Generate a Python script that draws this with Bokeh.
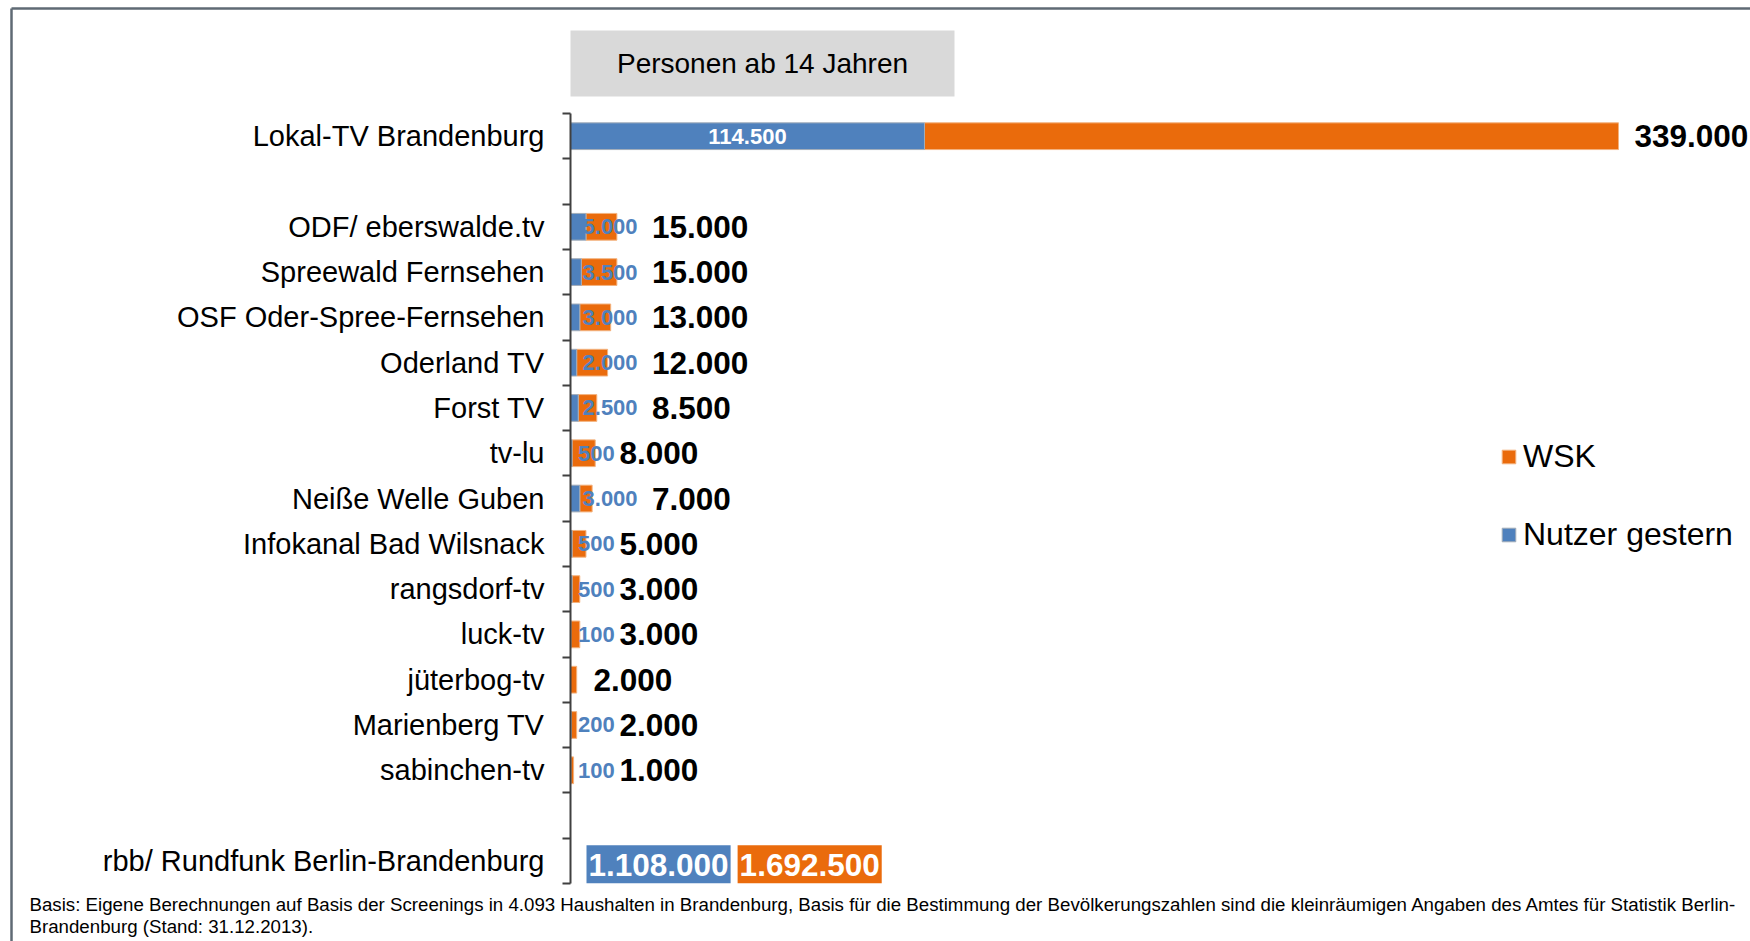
import numpy as np
from bokeh.plotting import figure
from bokeh.models import (ColumnDataSource, Range1d, LinearAxis, FixedTicker,
                          Legend, LegendItem)
from bokeh.core.properties import value
from bokeh.embed import file_html
from bokeh.resources import INLINE

# ---------------- data ----------------
sender = ["Lokal-TV Brandenburg", "ODF/ eberswalde.tv", "Spreewald Fernsehen",
          "OSF Oder-Spree-Fernsehen", "Oderland TV", "Forst TV", "tv-lu",
          "Neiße Welle Guben", "Infokanal Bad Wilsnack", "rangsdorf-tv",
          "luck-tv", "jüterbog-tv", "Marienberg TV", "sabinchen-tv"]
nutzer_gestern = [114500, 5000, 3500, 3000, 2000, 2500, 500, 3000, 500, 500,
                  100, None, 200, 100]
wsk = [339000, 15000, 15000, 13000, 12000, 8500, 8000, 7000, 5000, 3000,
       3000, 2000, 2000, 1000]
rbb_name = "rbb/ Rundfunk Berlin-Brandenburg"
rbb_nutzer = 1108000
rbb_wsk = 1692500
title_text = "Personen ab 14 Jahren"
footnote = ["Basis: Eigene Berechnungen auf Basis der Screenings in 4.093 Haushalten in Brandenburg, "
            "Basis für die Bestimmung der Bevölkerungszahlen sind die kleinräumigen Angaben des Amtes für Statistik Berlin-",
            "Brandenburg (Stand: 31.12.2013)."]

# ---------------- layout ----------------
W, H = 1750, 941
AX = 570            # canvas x of the value axis
PX_PER_UNIT = 1048 / 339000
AX_BOTTOM = 883     # canvas y of the axis bottom
ROW = 45.29
BLUE = "#4f81bd"
ORANGE = "#ea6b0c"
FONT = value("Liberation Sans")

x_start = -AX / PX_PER_UNIT
x_end = (W - AX) / PX_PER_UNIT
y_start = -0.5 - (H - AX_BOTTOM) / ROW
y_end = -0.5 + AX_BOTTOM / ROW


def px2x(cx):
    return (cx - AX) / PX_PER_UNIT


def px2y(cy):
    return -0.5 + (AX_BOTTOM - cy) / ROW


def fmt(v):
    return f"{v:,}".replace(",", ".")


def text_w(s, size):
    return sum(0.556 if c.isdigit() else 0.278 for c in s) * size


# slots: Lokal on top, a gap, the small stations, a gap, rbb at the bottom
n_small = len(sender) - 1
n_slots = n_small + 4
slots = [n_slots - 1] + list(range(n_slots - 3, 1, -1))
rbb_slot = 0

p = figure(width=W, height=H, x_range=Range1d(x_start, x_end),
           y_range=Range1d(y_start, y_end), x_axis_type=None, y_axis_type=None,
           toolbar_location=None, output_backend="svg", min_border=0,
           outline_line_color=None, background_fill_color="white",
           border_fill_color="white")
p.xgrid.visible = False
p.ygrid.visible = False

nz = [0 if v is None else v for v in nutzer_gestern]
src = ColumnDataSource(dict(y=slots, left0=[0] * len(sender), nutzer=nz, wsk=wsk))
r_or = p.hbar(y="y", left="nutzer", right="wsk", height=0.59, source=src,
              fill_color=ORANGE, line_color="#f3b27e", line_width=1)
r_bl = p.hbar(y="y", left="left0", right="nutzer", height=0.59, source=src,
              fill_color=BLUE, line_color="#a3adb9", line_width=1)

# value labels
in_x, in_y, in_t = [], [], []
out_y, out_t, out_off = [], [], []
w_y, w_x, w_t, w_off = [], [], [], []
BL_SIZE, W_SIZE = 22, 31.5
for s, n, w in zip(slots, nutzer_gestern, wsk):
    lab = fmt(n) if n is not None else ""
    wb = text_w(lab, BL_SIZE)
    if n is not None and n * PX_PER_UNIT > wb + 40:
        in_x.append(n / 2); in_y.append(s); in_t.append(lab)
        w_x.append(w); w_off.append(16)
    else:
        if lab:
            out_y.append(s); out_t.append(lab); out_off.append(0.246 * wb - 1.5)
        w_x.append(0); w_off.append(23 + 0.0193 * wb * wb)
    w_y.append(s); w_t.append(fmt(w))

p.text(x=in_x, y=in_y, text=in_t, text_align="center", text_baseline="middle",
       text_font=FONT, text_font_style="bold", text_font_size=f"{BL_SIZE}px",
       text_color="white")
p.text(x="x", y="y", text="t", x_offset="off",
       source=ColumnDataSource(dict(x=[0] * len(out_y), y=out_y, t=out_t, off=out_off)),
       text_align="left", text_baseline="middle", text_font=FONT,
       text_font_style="bold", text_font_size=f"{BL_SIZE}px", text_color=BLUE)
p.text(x="x", y="y", text="t", x_offset="off",
       source=ColumnDataSource(dict(x=w_x, y=w_y, t=w_t, off=w_off)),
       text_align="left", text_baseline="middle", text_font=FONT,
       text_font_style="bold", text_font_size=f"{W_SIZE}px", text_color="black")

# rbb labels (not to scale, boxed numbers)
t1, t2 = fmt(rbb_nutzer), fmt(rbb_wsk)
w1, w2 = text_w(t1, W_SIZE), text_w(t2, W_SIZE)
b1_left = 16
b2_left = b1_left + w1 + 4 + 7
box_c = rbb_slot - 3.5 / ROW
box_h = 38 / ROW
p.quad(left=[px2x(AX + b1_left), px2x(AX + b2_left)],
       right=[px2x(AX + b1_left + w1 + 4), px2x(AX + b2_left + w2 + 4)],
       top=[box_c + box_h / 2] * 2, bottom=[box_c - box_h / 2] * 2,
       fill_color=[BLUE, ORANGE], line_color=None)
p.text(x=[0, 0], y=[box_c, box_c], text=[t1, t2],
       x_offset=[b1_left + 2, b2_left + 2], y_offset=1,
       text_align="left", text_baseline="middle", text_font=FONT,
       text_font_style="bold", text_font_size=f"{W_SIZE}px", text_color="white")

# category axis
centers = slots + [rbb_slot]
names = sender + [rbb_name]
ax = LinearAxis(fixed_location=0, bounds=(-0.5, n_slots - 0.5))
ax.ticker = FixedTicker(ticks=centers,
                        minor_ticks=[i - 0.5 for i in range(n_slots + 1)])
ax.major_label_overrides = {int(c): nm for c, nm in zip(centers, names)}
ax.major_tick_out = 0
ax.major_tick_in = 0
ax.minor_tick_out = 8
ax.minor_tick_in = 0
ax.minor_tick_line_color = "#404040"
ax.minor_tick_line_width = 2
ax.axis_line_color = "#404040"
ax.axis_line_width = 2
ax.major_label_standoff = 18
ax.major_label_text_font = "Liberation Sans"
ax.major_label_text_font_size = "29px"
ax.major_label_text_color = "black"
p.add_layout(ax, "left")

# title box
p.quad(left=[px2x(570)], right=[px2x(954)], top=[px2y(30)], bottom=[px2y(96)],
       fill_color="#d9d9d9", line_color=None)
p.text(x=[px2x(762)], y=[px2y(63)], text=[title_text], text_align="center",
       text_baseline="middle", text_font=FONT, text_font_size="28px",
       text_color="black")

# footnote
p.text(x=[px2x(29)] * 2, y=[px2y(904), px2y(926)], text=footnote,
       text_align="left", text_baseline="middle", text_font=FONT,
       text_font_size="18.7px", text_color="black")

# frame lines
p.segment(x0=[px2x(11), px2x(11)], y0=[px2y(8), px2y(8)],
          x1=[px2x(W), px2x(11)], y1=[px2y(8), px2y(H)],
          line_color="#5f6a74", line_width=2.5)

# legend
legend = Legend(items=[LegendItem(label="WSK", renderers=[r_or]),
                       LegendItem(label="Nutzer gestern", renderers=[r_bl])],
                location=(1500, 388), orientation="vertical",
                glyph_width=17, glyph_height=17, label_standoff=6,
                spacing=41, padding=0, margin=0,
                label_text_font="Liberation Sans", label_text_font_size="32px",
                label_text_color="black", border_line_color=None,
                background_fill_alpha=0)
p.add_layout(legend, "center")

open("out.html", "w").write(file_html(p, INLINE))
